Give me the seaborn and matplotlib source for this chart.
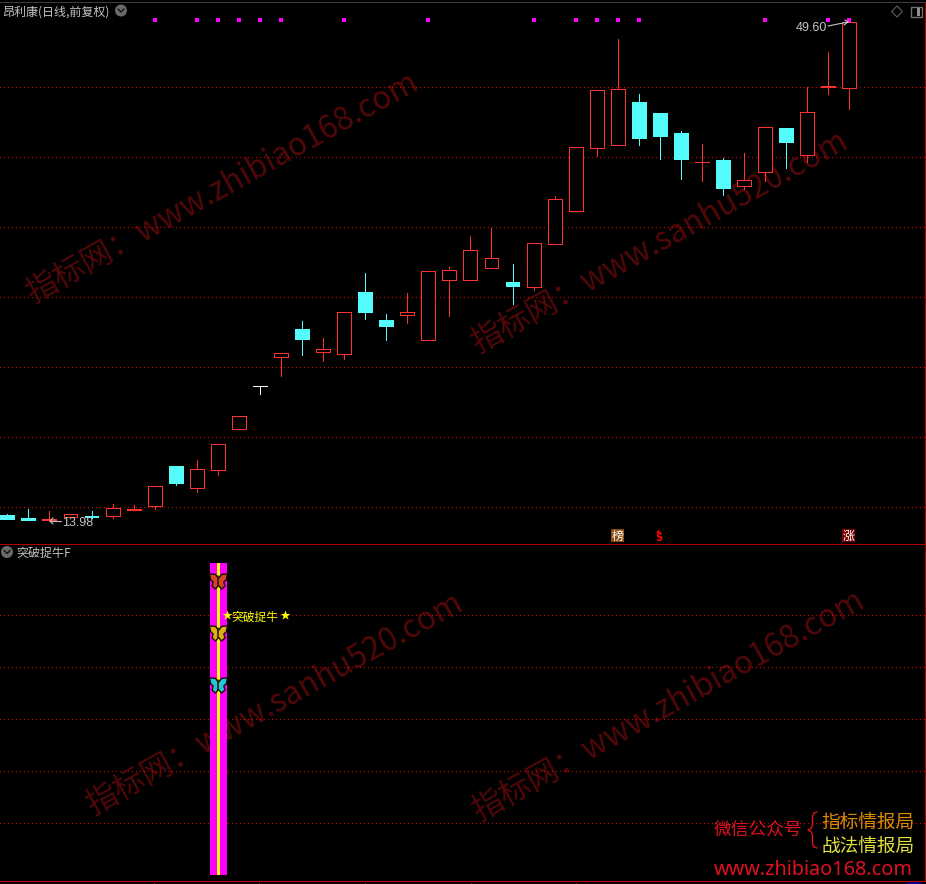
import numpy as np
import pandas as pd
import matplotlib
matplotlib.use("Agg")
import matplotlib.pyplot as plt
from matplotlib.path import Path
from matplotlib.patches import Circle, Rectangle, Polygon
import seaborn as sns

opens = [14.41, 14.19, 14.05, 14.23, 14.34, 14.34, 14.76, 15.05, 17.89, 16.32, 17.60, 20.51, 23.57, 25.62,
         27.61, 25.98, 25.84, 30.24, 28.25, 28.61, 26.83, 31.09, 31.09, 31.94, 30.95, 30.59, 33.65, 35.99,
         40.46, 40.68, 43.73, 42.95, 41.53, 39.47, 39.61, 37.77, 38.76, 41.88, 39.97, 44.79, 44.72]
closes = [14.12, 14.05, 14.12, 14.51, 14.26, 14.90, 14.83, 16.47, 16.68, 17.67, 19.45, 21.44, 23.57, 25.91,
          26.90, 26.19, 28.82, 28.82, 27.83, 28.82, 31.73, 31.80, 33.22, 32.65, 30.67, 33.72, 36.84, 40.53,
          44.58, 44.65, 41.17, 41.32, 39.68, 39.47, 37.62, 38.19, 41.95, 40.89, 43.02, 44.87, 49.41]
highs = [14.48, 14.83, 14.69, 14.51, 14.69, 15.19, 15.12, 16.47, 17.89, 18.31, 19.45, 21.44, 23.57, 25.91,
         28.18, 26.97, 28.82, 31.59, 28.68, 30.17, 31.73, 32.01, 34.22, 34.78, 32.23, 33.72, 37.06, 40.53,
         44.58, 48.20, 44.30, 42.95, 41.67, 40.75, 39.75, 40.11, 41.95, 41.88, 44.79, 47.28, 49.60]
lows = [14.12, 14.05, 13.98, 14.23, 14.19, 14.19, 14.76, 14.83, 16.54, 16.04, 17.25, 20.51, 23.00, 24.28,
        25.77, 25.34, 25.48, 28.32, 26.83, 28.04, 26.83, 28.54, 31.09, 31.94, 29.39, 30.38, 33.65, 35.99,
        39.90, 40.68, 40.68, 39.68, 38.26, 38.12, 37.13, 37.55, 38.12, 39.04, 39.47, 44.30, 43.23]
white_days = [12]
signal_days = [7, 9, 10, 11, 12, 13, 16, 20, 25, 27, 28, 29, 30, 36, 39, 40]
signal_level = 49.55
grid_prices = [44.79, 39.82, 34.85, 29.88, 24.91, 19.94, 14.97]
low_label = "13.98"
high_label = "49.60"
stock_title = "昂利康(日线,前复权)"
indicator_title = "突破捉牛F"
indicator_tag = "突破捉牛"
band_day = 10
band_height = 6
sub_grid = [1, 2, 3, 4, 5]
butterfly_levels = [5.65, 4.65, 3.65]
butterfly_colors = ["#d8432c", "#dcb014", "#22c8d8"]

df = pd.DataFrame({"day": np.arange(len(opens)), "open": opens, "close": closes, "high": highs, "low": lows})

W, H = 926, 884
sns.set_theme(style="dark", rc={"figure.facecolor": "black", "axes.facecolor": "black",
                                "savefig.facecolor": "black", "axes.grid": False})
plt.rcParams["font.family"] = ["Noto Sans CJK SC", "DejaVu Sans"]

fig = plt.figure(figsize=(W / 100, H / 100), dpi=100)
def box(top, bottom):
    return [0, 1 - bottom / H, 1, (bottom - top) / H]

def overlay(z):
    o = fig.add_axes([0, 0, 1, 1], zorder=z)
    o.set_xlim(0, W); o.set_ylim(H, 0); o.axis("off")
    return o

def px(size):
    return size * 0.72

bg = overlay(0)

XLIM = (-0.347, 43.64)
ax = fig.add_axes(box(3, 543), zorder=1)
ax.set_xlim(*XLIM)
ax.set_ylim(12.418, 50.758)
sub = fig.add_axes(box(543, 880), zorder=1)
sub.set_xlim(*XLIM)
sub.set_ylim(-0.096, 6.385)
for a in (ax, sub):
    a.patch.set_alpha(0)
    a.set_xticks([]); a.set_yticks([])
    for s in a.spines.values():
        s.set_visible(False)

RED, CYAN = "#ff3232", "#54fcfc"
GRID = "#dc0000"
PX = 0.72
DOTS = (0, (1, 3))
for g in grid_prices:
    ax.axhline(g, color=GRID, lw=PX, ls=DOTS, antialiased=False, zorder=1)
for g in sub_grid:
    sub.axhline(g, color=GRID, lw=PX, ls=DOTS, antialiased=False, zorder=1)

BW = 0.66
for r in df.itertuples():
    up = r.close >= r.open
    c = "white" if r.day in white_days else (RED if up else CYAN)
    top, bot = max(r.open, r.close), min(r.open, r.close)
    ax.vlines(r.day, bot, r.low, color=c, lw=PX, antialiased=False, zorder=3)
    ax.vlines(r.day, top, r.high, color=c, lw=PX, antialiased=False, zorder=3)
    ax.bar(r.day, top - bot, BW, bottom=bot, facecolor="black" if up else c, edgecolor=c,
           linewidth=PX, antialiased=False, zorder=3)

sns.scatterplot(x=signal_days, y=[signal_level] * len(signal_days), ax=ax, marker="s", s=10,
                color="#ff00ff", linewidth=0, zorder=4, legend=False)

# lower panel band
BAND_SHIFT = 0.04
sub.bar(band_day + BAND_SHIFT, band_height, 0.81, bottom=0, color="#ff00ff", linewidth=0, zorder=2)
sub.bar(band_day + BAND_SHIFT, band_height, 0.14, bottom=0, color="#ffff00", linewidth=0, zorder=3)

right = [(0, 0.35), (0.35, 0.8), (1, 0.85), (0.88, 0.2), (0.6, -0.05), (0.72, -0.5), (0.35, -0.85), (0, -0.45)]
left = [(-x, y) for x, y in reversed(right[:-1])]
verts = right + left
wing = Path(verts + [verts[0]], closed=True)
for lv, col in zip(butterfly_levels, butterfly_colors):
    sns.scatterplot(x=[band_day], y=[lv], ax=sub, marker=wing, s=165, color=col, edgecolor="#1a0d00",
                    linewidth=1.0, zorder=5, legend=False)
    sub.plot([band_day, band_day], [lv - 0.09, lv + 0.1], color="#302000", lw=1.2, zorder=6)
for a in (ax, sub):
    a.set_xlabel(""); a.set_ylabel("")

# overlay in pixel coordinates
ov = overlay(10)

GRAY = "#c4c4c4"
# frame
ov.plot([0, W], [1.5, 1.5], color="#3c3c3c", lw=PX, antialiased=False)
ov.plot([0, W], [543.5, 543.5], color="#b00000", lw=PX, antialiased=False)
ov.plot([0, W], [880.5, 880.5], color="#d00000", lw=PX, antialiased=False)
ov.plot([925, 925], [2, 880], color="#a00000", lw=PX, antialiased=False)
ov.add_patch(Rectangle((907, 881), 14, 3, color="#000080", lw=0))
for x in [154, 259, 365, 471, 576]:
    ov.plot([x, x], [881, 884], color="#800000", lw=PX, antialiased=False)

# titles
ov.text(2, 12, stock_title, color=GRAY, fontsize=px(12), va="center", ha="left")
ov.text(16, 553, indicator_title, color=GRAY, fontsize=px(12), va="center", ha="left")
for cx, cy in [(121, 10.5), (7, 552)]:
    ov.add_patch(Circle((cx, cy), 6, color="#6a6a6a", lw=0))
    ov.plot([cx - 3, cx, cx + 3], [cy - 1.5, cy + 1.5, cy - 1.5], color="#101010", lw=1.0)
ov.add_patch(Polygon([(897, 6), (902.5, 11.5), (897, 17), (891.5, 11.5)], fill=False, ec="#606060", lw=0.8))
ov.add_patch(Rectangle((910.5, 7), 11, 10, fill=False, ec="#707070", lw=1.0))
ov.add_patch(Rectangle((916.5, 8), 3.5, 8, color="#909090", lw=0))

# price callouts
ov.text(62, 523, low_label, color=GRAY, fontsize=px(12.5), va="center", ha="left", family="Liberation Sans")
ov.plot([50, 61], [521, 521], color=GRAY, lw=0.8)
ov.plot([53, 50, 53], [518, 521, 524], color=GRAY, lw=0.8)
ov.text(796, 28, high_label, color=GRAY, fontsize=px(12.5), va="center", ha="left", family="Liberation Sans")
ov.plot([828, 848], [26, 22], color=GRAY, lw=0.8)
ov.plot([845, 848, 844], [20, 22, 25], color=GRAY, lw=0.8)

# event tags
ov.add_patch(Rectangle((611, 529), 13, 13, color="#8a4a10", lw=0))
ov.text(617.5, 536, "榜", color="white", fontsize=px(12), va="center", ha="center")
ov.add_patch(Polygon([(656, 533), (658.5, 530), (661, 533)], color="#ff0000", lw=0))
ov.text(658.5, 538, "S", color="#ff0000", fontsize=px(10), va="center", ha="center", weight="bold",
        family="DejaVu Sans")
ov.add_patch(Rectangle((842, 529), 13, 13, color="#7a0000", lw=0))
ov.text(848.5, 536, "涨", color="white", fontsize=px(12), va="center", ha="center")

# indicator text
ov.text(231, 617, indicator_tag, color="#ffff00", fontsize=px(11.8), va="center", ha="left")
sns.scatterplot(x=[226.5, 284.5], y=[615, 615], ax=ov, marker="*", s=55, color="#ffff00", linewidth=0, legend=False)
ov.set_xlim(0, W); ov.set_ylim(H, 0); ov.set_xlabel(""); ov.set_ylabel("")

# watermarks under the candles
WM = "#520808"
marks = [(33, 303, "指标网：www.zhibiao168.com"), (478, 353, "指标网：www.sanhu520.com"),
         (93, 815, "指标网：www.sanhu520.com"), (479, 821, "指标网：www.zhibiao168.com")]
for x, y, t in marks:
    bg.text(x, y, t, color=WM, fontsize=px(31.5), rotation=29, rotation_mode="anchor",
            va="baseline", ha="left")

# corner promo
ov.text(714, 831, "微信公众号", color="#e01020", fontsize=px(17.7), va="center", ha="left")
ov.text(821.5, 822, "指标情报局", color="#e08a00", fontsize=px(18.7), va="center", ha="left")
ov.text(821.5, 846, "战法情报局", color="#e0e040", fontsize=px(18.7), va="center", ha="left")
ov.text(714, 870, "www.zhibiao168.com", color="#e01020", fontsize=px(19.9), va="center", ha="left",
        family="Noto Sans")
# curly brace between the two text groups
ov.plot([817, 814, 812.5, 812.5, 811, 808, 811, 812.5, 812.5, 814, 817],
        [812, 813, 816, 825, 828.5, 830, 831.5, 835, 844, 847, 848], color="#e01020", lw=1.0)

fig.savefig("out.png", dpi=100, facecolor="black")
